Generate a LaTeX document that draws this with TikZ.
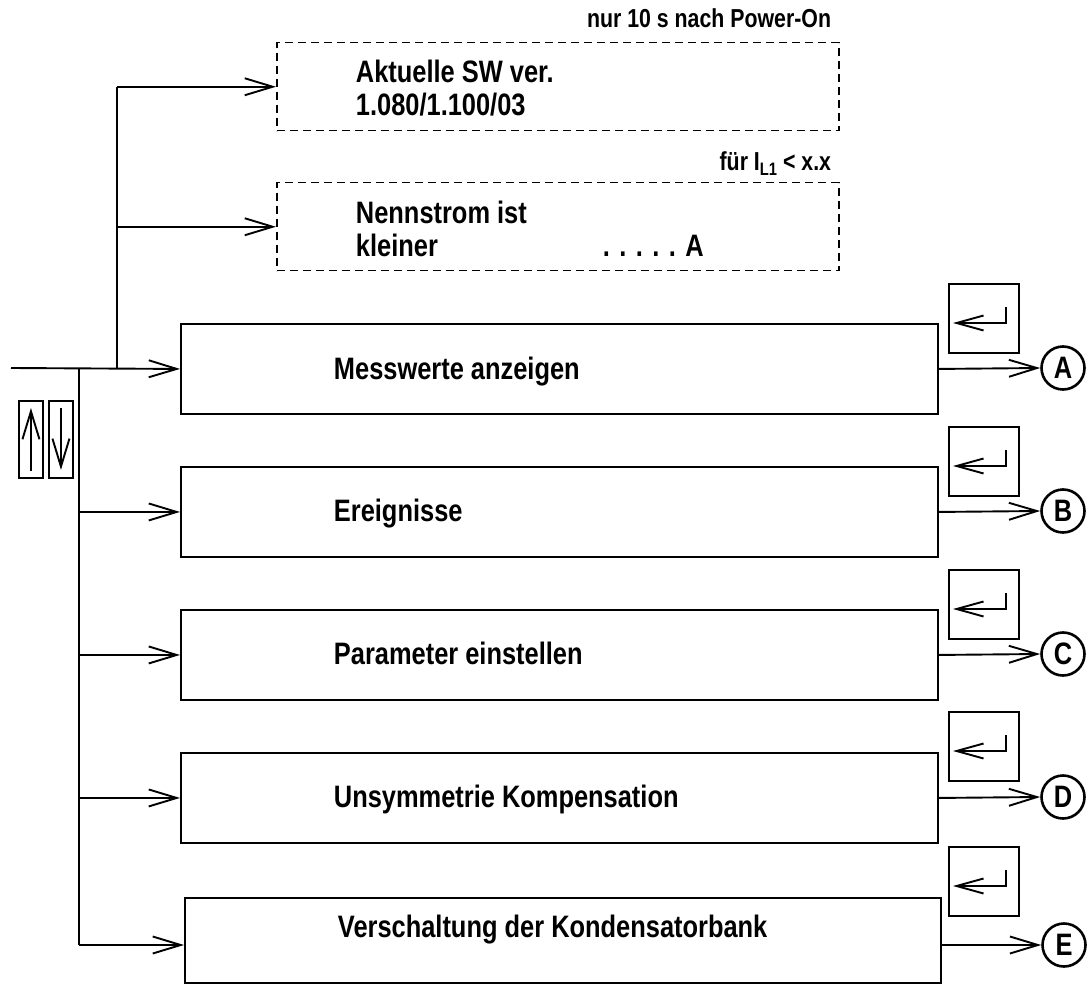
\documentclass[tikz,border=0pt]{standalone}
\usepackage{fontspec}
\setmainfont{Liberation Sans}[FakeStretch=0.82]
\usetikzlibrary{arrows.meta}

\begin{document}
\begin{tikzpicture}[x=1pt,y=-1pt,
  line width=1.9pt,
  barb/.style={-{Straight Barb[length=28pt,width=17pt,line width=1.9pt]}},
  smallbarb/.style={-{Straight Barb[length=27pt,width=15pt,line width=1.9pt]}},
  mainbox/.style={draw, minimum width=757pt, minimum height=90pt, anchor=north west, inner sep=0pt},
  dashbox/.style={draw, dash pattern=on 8pt off 5pt, line width=1.5pt, minimum width=562pt, minimum height=88pt, anchor=north west, inner sep=0pt},
  entbox/.style={draw, minimum width=70pt, minimum height=69pt, anchor=north west, inner sep=0pt},
  keybox/.style={draw, minimum width=24pt, minimum height=77pt, anchor=north west, inner sep=0pt},
  jump/.style={draw, circle, minimum size=43pt, inner sep=0pt, line width=2.6pt, font=\fontsize{31}{31}\selectfont\bfseries},
  txt/.style={anchor=base west, inner sep=0pt, font=\fontsize{31}{35}\selectfont\bfseries},
  note/.style={anchor=base east, inner sep=0pt, font=\fontsize{26}{30}\selectfont\bfseries},
]
\useasboundingbox (0,0) rectangle (1089,984);

% optional displays
\node[dashbox] (d1) at (276,42) {};
\node[dashbox] (d2) at (276,182) {};
\node[note] (n1) at (832,28) {nur 10 s nach Power-On};
\node[note] (n2) at (832,171) {für I\raisebox{-0.3ex}{\fontsize{18}{18}\selectfont L1} < x.x};
\node[txt] (sw1) at (355,83) {Aktuelle SW ver.};
\node[txt] (sw2) at (355,116) {1.080/1.100/03};
\node[txt] (ns1) at (355,224) {Nennstrom ist};
\node[txt] (ns2) at (355,257) {kleiner};
\node[txt] (ns3) at (602,257) {. . . . . A};

% menu entries
\node[mainbox] (mA) at (180,323) {};
\node[mainbox] (mB) at (180,466) {};
\node[mainbox] (mC) at (180,609) {};
\node[mainbox] (mD) at (180,752) {};
\node[mainbox, minimum width=756pt, minimum height=85pt] (mE) at (184,897) {};
\node[txt] (tA) at (333,379) {Messwerte anzeigen};
\node[txt] (tB) at (333,521) {Ereignisse};
\node[txt] (tC) at (333,664) {Parameter einstellen};
\node[txt] (tD) at (333,807) {Unsymmetrie Kompensation};
\node[txt] (tE) at (337,937) {Verschaltung der Kondensatorbank};

% enter keys
\foreach \k/\y in {A/283,B/426,C/569,D/711,E/846}{
  \node[entbox] (e\k) at (948,\y) {};
  \draw[smallbarb] ([xshift=58pt,yshift=-24pt]e\k.north west) |- ([xshift=5pt,yshift=-40pt]e\k.north west);
}

% jump targets
\node[jump] (cA) at (1063,368) {A};
\node[jump] (cB) at (1063,511) {B};
\node[jump] (cC) at (1063,654) {C};
\node[jump] (cD) at (1063,797) {D};
\node[jump] (cE) at (1064,945) {E};

% up / down keys
\node[keybox] (kU) at (18,400) {};
\node[keybox] (kD) at (48,400) {};
\draw[barb] ([yshift=8pt]kU.south) -- ([yshift=-8pt]kU.north);
\draw[barb] ([yshift=-8pt]kD.north) -- ([yshift=9pt]kD.south);

% connectors
\coordinate (in) at (11,368);
\coordinate (j1) at (117,368);
\coordinate (j2) at (79,368);
\coordinate (jE) at (79,945);
\draw[barb] (in) -- (mA.west);
\draw (j1) -- (j1 |- d1.west);
\draw[barb] (j1 |- d1.west) -- (d1.west);
\draw[barb] (j1 |- d2.west) -- (d2.west);
\draw (j2) -- (jE);
\draw[barb] (j2 |- mB.west) -- (mB.west);
\draw[barb] (j2 |- mC.west) -- (mC.west);
\draw[barb] (j2 |- mD.west) -- (mD.west);
\draw[barb] (jE) -- (jE -| mE.west);

\draw[barb] (mA.east) -- (cA.west);
\draw[barb] (mB.east) -- (cB.west);
\draw[barb] (mC.east) -- (cC.west);
\draw[barb] (mD.east) -- (cD.west);
\draw[barb] (jE -| mE.east) -- (cE.west);
\end{tikzpicture}
\end{document}
